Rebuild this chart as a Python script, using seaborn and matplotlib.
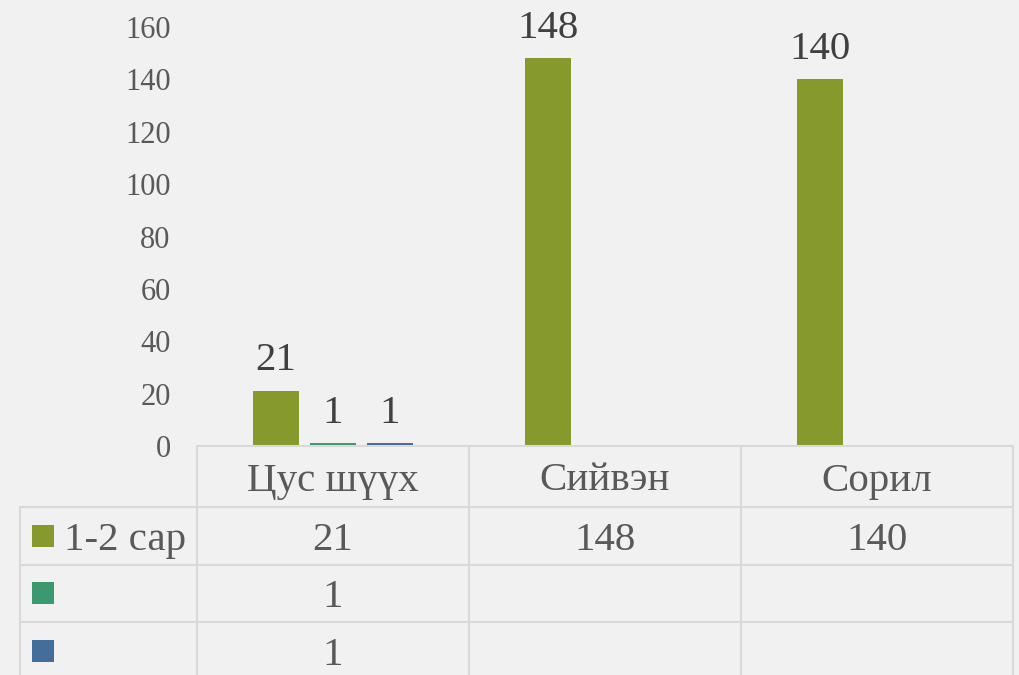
import pandas as pd
import matplotlib.pyplot as plt
from matplotlib.patches import Rectangle
import seaborn as sns

# --- data ---
categories = ['Цус шүүх', 'Сийвэн', 'Сорил']
series_keys = ['s1', 's2', 's3']
series_labels = ['1-2 сар', '', '']
values_s1 = [21, 148, 140]
values_s2 = [1, None, None]
values_s3 = [1, None, None]
y_ticks = [0, 20, 40, 60, 80, 100, 120, 140, 160]

colors = ['#86992C', '#3A996E', '#436D9B']
BG = '#F1F1F1'
GRID = '#D9D9D9'
TXT = '#595959'
LBL = '#404040'


def build_frame():
    rows = []
    for key, vals in zip(series_keys, [values_s1, values_s2, values_s3]):
        for cat, v in zip(categories, vals):
            if v is not None:
                rows.append({'category': cat, 'series': key, 'value': v})
    return pd.DataFrame(rows)


def fmt(v):
    return '' if v is None else f'{v:g}'


df = build_frame()

sns.set_style('white')
plt.rcParams['font.family'] = ['Liberation Serif', 'DejaVu Serif']

W, H = 1020, 675
fig = plt.figure(figsize=(W / 100, H / 100), dpi=100, facecolor=BG)

# main bar axes: x from 197 to 1013 px, y from 27 (160) to 446 (0)
ax = fig.add_axes([197 / W, 1 - 446 / H, (1013 - 197) / W, (446 - 27) / H])
ax.set_facecolor('none')
sns.barplot(data=df, x='category', y='value', hue='series', order=categories,
            hue_order=series_keys, palette=colors, saturation=1,
            width=0.63, gap=0.2, legend=False, linewidth=0, ax=ax)
ax.set_xlim(-0.5, 2.5)
ax.set_ylim(0, 160)
ax.set_yticks(y_ticks)
ax.set_xticks([])
ax.set_xlabel('')
ax.set_ylabel('')
ax.tick_params(axis='y', length=0, pad=19, labelsize=22, labelcolor=TXT)
for s in ax.spines.values():
    s.set_visible(False)

for cont in ax.containers:
    ax.bar_label(cont, fmt='%g', padding=8.5, fontsize=29.5, color=LBL)

# data table below: spans x 20..1013 px, y 446..675 px
tab = fig.add_axes([20 / W, 0, (1013 - 20) / W, (H - 446) / H])
tab.set_facecolor('none')
left = -0.5 - 177 / 272
tab.set_xlim(left, 2.5)
hdr = 61 / 57.5
bottom = (H - 446) / 57.5
tab.set_ylim(bottom, 0)
tab.axis('off')

lw = 1.5
tab.plot([-0.5, 2.5], [0, 0], color=GRID, lw=lw, clip_on=False)
for i in range(3):
    tab.plot([left, 2.5], [hdr + i, hdr + i], color=GRID, lw=lw, clip_on=False)
tab.plot([left, left], [hdr, bottom], color=GRID, lw=lw, clip_on=False)
for xb in [-0.5, 0.5, 1.5, 2.5]:
    tab.plot([xb, xb], [0, bottom], color=GRID, lw=lw, clip_on=False)

for j, cat in enumerate(categories):
    tab.text(j, hdr / 2, cat, ha='center', va='center_baseline', fontsize=29.5, color=TXT)

sq_w = 22 / 272
sq_h = 22 / 57.5
for i, (lab, col, vals) in enumerate(zip(series_labels, colors,
                                         [values_s1, values_s2, values_s3])):
    yc = hdr + i + 0.5
    tab.add_patch(Rectangle((left + 12 / 272, yc - sq_h / 2), sq_w, sq_h,
                            facecolor=col, edgecolor='none'))
    if lab:
        tab.text(left + 44 / 272, yc, lab, ha='left', va='center_baseline',
                 fontsize=29.5, color=TXT)
    for j, v in enumerate(vals):
        tab.text(j, yc, fmt(v), ha='center', va='center_baseline', fontsize=29.5, color=TXT)

fig.savefig('out.png', dpi=100, facecolor=BG)
